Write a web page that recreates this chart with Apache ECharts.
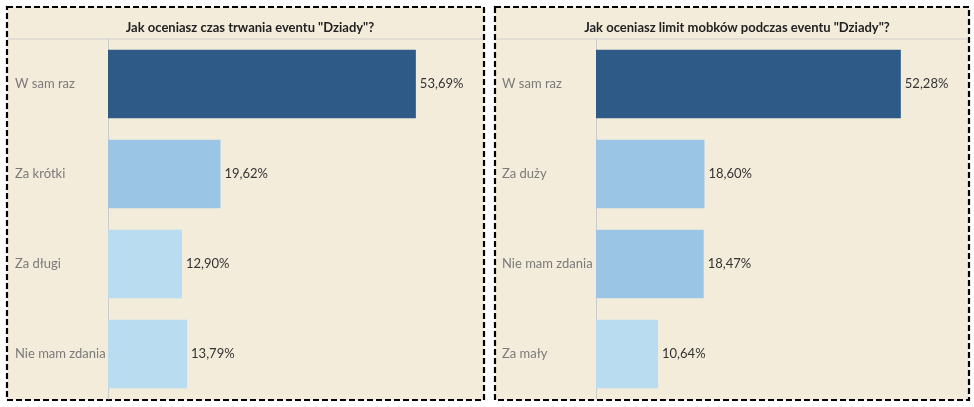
<!DOCTYPE html>
<html>
<head>
<meta charset="UTF-8">
<title>Dziady - ankieta</title>
<script src="https://cdn.jsdelivr.net/npm/echarts@6/dist/echarts.min.js"></script>
<style>
  html, body { margin: 0; padding: 0; background: #ffffff; }
  #main { width: 974px; height: 407px; }
</style>
</head>
<body>
<div id="main"></div>
<script type="text/javascript">
// dane z wykresu
var titles = ['Jak oceniasz czas trwania eventu "Dziady"?', 'Jak oceniasz limit mobków podczas eventu "Dziady"?'];
var catsCzas = ['W sam raz', 'Za krótki', 'Za długi', 'Nie mam zdania'];
var valsCzas = [53.69, 19.62, 12.90, 13.79];
var catsLimit = ['W sam raz', 'Za duży', 'Nie mam zdania', 'Za mały'];
var valsLimit = [52.28, 18.60, 18.47, 10.64];
var colCzas = ['#2d5a87', '#9bc5e4', '#b9dcf1', '#b9dcf1'];
var colLimit = ['#2d5a87', '#9bc5e4', '#9bc5e4', '#b9dcf1'];

var font = 'Lato';
var myChart = echarts.init(document.getElementById('main'));

function fmt(p) {
  return p.value.toFixed(2).replace('.', ',') + '%';
}
function seriesData(vals, cols) {
  return vals.map(function (v, i) { return { value: v, itemStyle: { color: cols[i] } }; });
}
function panel(x, w) {
  return [
    { type: 'rect', shape: { x: x, y: 7, width: w, height: 393 },
      style: { fill: '#f4ecdb', stroke: '#000', lineWidth: 2.2, lineDash: [6, 3] }, z: -10 },
    { type: 'line', shape: { x1: x + 1, y1: 39, x2: x + w - 1, y2: 39 },
      style: { stroke: '#cfcfcf', lineWidth: 1 } }
  ];
}

var option = {
  animation: false,
  textStyle: { fontFamily: font },
  graphic: panel(7, 477).concat(panel(495, 474)),
  title: [
    { text: titles[0], left: 245, top: 16, textAlign: 'center',
      textStyle: { fontSize: 13, fontWeight: 'bold', color: '#222', fontFamily: font } },
    { text: titles[1], left: 732, top: 16, textAlign: 'center',
      textStyle: { fontSize: 13, fontWeight: 'bold', color: '#222', fontFamily: font } }
  ],
  grid: [
    { left: 108, top: 39, width: 375, height: 360 },
    { left: 596, top: 39, width: 372, height: 360 }
  ],
  xAxis: [
    { gridIndex: 0, type: 'value', min: 0, max: 65.4, show: false },
    { gridIndex: 1, type: 'value', min: 0, max: 63.8, show: false }
  ],
  yAxis: [
    { gridIndex: 0, type: 'category', data: catsCzas, inverse: true,
      axisLine: { lineStyle: { color: '#cccccc' } }, axisTick: { show: false },
      axisLabel: { align: 'left', margin: 93, color: '#7a7a7a', fontSize: 13, fontFamily: font } },
    { gridIndex: 1, type: 'category', data: catsLimit, inverse: true,
      axisLine: { lineStyle: { color: '#cccccc' } }, axisTick: { show: false },
      axisLabel: { align: 'left', margin: 94, color: '#7a7a7a', fontSize: 13, fontFamily: font } }
  ],
  series: [
    { type: 'bar', xAxisIndex: 0, yAxisIndex: 0, data: seriesData(valsCzas, colCzas),
      barCategoryGap: '24%',
      label: { show: true, position: 'right', distance: 4, formatter: fmt, color: '#333', fontSize: 13, fontFamily: font } },
    { type: 'bar', xAxisIndex: 1, yAxisIndex: 1, data: seriesData(valsLimit, colLimit),
      barCategoryGap: '24%',
      label: { show: true, position: 'right', distance: 4, formatter: fmt, color: '#333', fontSize: 13, fontFamily: font } }
  ]
};
myChart.setOption(option);
</script>
</body>
</html>
